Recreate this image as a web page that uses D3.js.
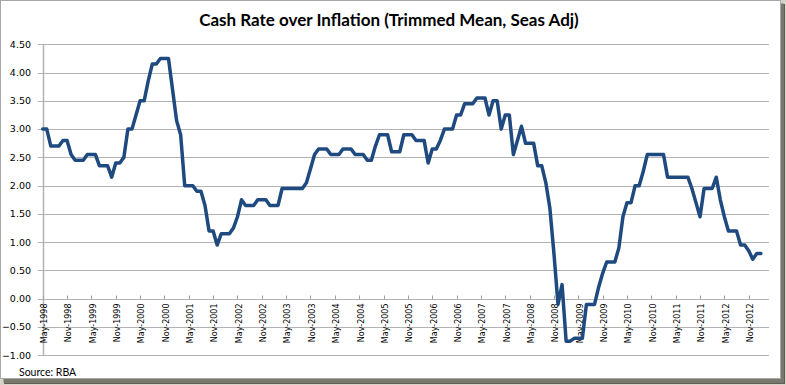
<!DOCTYPE html>
<html>
<head>
<meta charset="utf-8">
<script src="https://cdn.jsdelivr.net/npm/d3@7/dist/d3.min.js"></script>
<style>
  html, body { margin: 0; padding: 0; background: #ffffff; }
  svg { display: block; }
</style>
</head>
<body>
<svg id="chart" width="786" height="385"></svg>
<script>
// ---- Data (monthly, starting May-1998) ----
const startYear = 1998;
const startMonth = 4; // May (0-based)
const values = [
  3.00, 3.00, 2.70, 2.70, 2.70, 2.80, 2.80, 2.55, 2.45, 2.45,
  2.45, 2.55, 2.55, 2.55, 2.35, 2.35, 2.35, 2.15, 2.40, 2.40,
  2.50, 3.00, 3.00, 3.25, 3.50, 3.50, 3.85, 4.15, 4.15, 4.25,
  4.25, 4.25, 3.70, 3.15, 2.90, 2.00, 2.00, 2.00, 1.90, 1.90,
  1.65, 1.20, 1.20, 0.95, 1.15, 1.15, 1.15, 1.25, 1.45, 1.75,
  1.65, 1.65, 1.65, 1.75, 1.75, 1.75, 1.65, 1.65, 1.65, 1.95,
  1.95, 1.95, 1.95, 1.95, 1.95, 2.05, 2.30, 2.55, 2.65, 2.65,
  2.65, 2.55, 2.55, 2.55, 2.65, 2.65, 2.65, 2.55, 2.55, 2.55,
  2.45, 2.45, 2.70, 2.90, 2.90, 2.90, 2.60, 2.60, 2.60, 2.90,
  2.90, 2.90, 2.80, 2.80, 2.80, 2.40, 2.65, 2.65, 2.80, 3.00,
  3.00, 3.00, 3.25, 3.25, 3.45, 3.45, 3.45, 3.55, 3.55, 3.55,
  3.25, 3.50, 3.50, 3.00, 3.25, 3.25, 2.55, 2.80, 3.05, 2.75,
  2.75, 2.75, 2.35, 2.35, 2.05, 1.60, 0.80, -0.10, 0.25, -0.75,
  -0.75, -0.70, -0.70, -0.70, -0.10, -0.10, -0.10, 0.20, 0.45, 0.65,
  0.65, 0.65, 0.90, 1.45, 1.70, 1.70, 2.00, 2.00, 2.25, 2.55,
  2.55, 2.55, 2.55, 2.55, 2.15, 2.15, 2.15, 2.15, 2.15, 2.15,
  1.95, 1.70, 1.45, 1.95, 1.95, 1.95, 2.15, 1.75, 1.45, 1.20,
  1.20, 1.20, 0.95, 0.95, 0.85, 0.70, 0.80, 0.80
];
const xTickLabels = [
  "May-1998","Nov-1998","May-1999","Nov-1999","May-2000","Nov-2000",
  "May-2001","Nov-2001","May-2002","Nov-2002","May-2003","Nov-2003",
  "May-2004","Nov-2004","May-2005","Nov-2005","May-2006","Nov-2006",
  "May-2007","Nov-2007","May-2008","Nov-2008","May-2009","Nov-2009",
  "May-2010","Nov-2010","May-2011","Nov-2011","May-2012","Nov-2012"
];
const yTicks = [-1.00, -0.50, 0.00, 0.50, 1.00, 1.50, 2.00, 2.50, 3.00, 3.50, 4.00, 4.50];
const title = "Cash Rate over Inflation (Trimmed Mean, Seas Adj)";
const source = "Source: RBA";

// ---- Layout ----
const svg = d3.select("#chart");
const W = 786, H = 385;
const plotLeft = 42.7, plotRight = 769, plotTop = 44.3, plotBottom = 355.3;

// frame & shadow
svg.append("rect").attr("x", 0).attr("y", 0).attr("width", W).attr("height", H).attr("fill", "#d8d4c8");
svg.append("rect").attr("x", 4).attr("y", 4).attr("width", W - 5).attr("height", H - 5).attr("fill", "#5e5e55");
svg.append("rect").attr("x", 3).attr("y", 3).attr("width", W - 5).attr("height", H - 5).attr("fill", "#8a8a80").attr("opacity", 0.6);
svg.append("rect").attr("x", 0.5).attr("y", 0.5).attr("width", 780).attr("height", 378)
  .attr("fill", "#ffffff").attr("stroke", "#a8a8a8").attr("stroke-width", 1);

const x = d3.scaleLinear().domain([0, 179]).range([plotLeft, plotRight]);
const y = d3.scaleLinear().domain([-1, 4.5]).range([plotBottom, plotTop]);

// gridlines
const grid = svg.append("g");
grid.selectAll("line").data(yTicks).join("line")
  .attr("x1", plotLeft - 5).attr("x2", plotRight)
  .attr("y1", d => Math.round(y(d)) + 0.5).attr("y2", d => Math.round(y(d)) + 0.5)
  .attr("stroke", "#b3b3b3").attr("stroke-width", 1);

// y axis line
svg.append("line")
  .attr("x1", Math.round(plotLeft) + 0.5).attr("x2", Math.round(plotLeft) + 0.5)
  .attr("y1", Math.round(plotTop)).attr("y2", Math.round(plotBottom) + 1)
  .attr("stroke", "#b3b3b3").attr("stroke-width", 1.5);

// y labels
svg.append("g").selectAll("text").data(yTicks).join("text")
  .attr("x", 31).attr("y", d => y(d))
  .attr("dy", "0.35em")
  .attr("text-anchor", "end")
  .attr("font-family", "DejaVu Sans, Verdana, sans-serif")
  .attr("font-size", 9.5)
  .attr("fill", "#000")
  .text(d => d3.format(".2f")(d));

// x axis (crossing at 0) with ticks every 6 months
const y0 = Math.round(y(0)) + 0.5;
const tickIdx = xTickLabels.map((d, i) => i * 6);
svg.append("g").selectAll("line").data(tickIdx).join("line")
  .attr("x1", d => Math.round(x(d)) + 0.5).attr("x2", d => Math.round(x(d)) + 0.5)
  .attr("y1", y0 - 4).attr("y2", y0)
  .attr("stroke", "#a0a0a0").attr("stroke-width", 1);

svg.append("g").selectAll("text").data(xTickLabels).join("text")
  .attr("transform", (d, i) => `translate(${x(i * 6) + 1.5},${y0 + 4}) rotate(-90)`)
  .attr("dy", "0.35em")
  .attr("text-anchor", "end")
  .attr("font-family", "DejaVu Sans, Verdana, sans-serif")
  .attr("font-size", 8)
  .attr("fill", "#000")
  .text(d => d);

// line
const line = d3.line()
  .x((d, i) => x(i))
  .y(d => y(d))
  .curve(d3.curveLinear);
svg.append("path").datum(values)
  .attr("d", line)
  .attr("fill", "none")
  .attr("stroke", "#1f4a80")
  .attr("stroke-width", 3.5)
  .attr("stroke-linejoin", "round")
  .attr("stroke-linecap", "round");

// title
svg.append("text")
  .attr("x", 389).attr("y", 26)
  .attr("text-anchor", "middle")
  .attr("font-family", "Lato, Carlito, sans-serif")
  .attr("font-weight", "bold")
  .attr("font-size", 17)
  .attr("fill", "#000")
  .text(title);

// source
svg.append("text")
  .attr("x", 19).attr("y", 376)
  .attr("font-family", "Lato, Carlito, sans-serif")
  .attr("font-size", 10.5)
  .attr("fill", "#000")
  .text(source);
</script>
</body>
</html>
